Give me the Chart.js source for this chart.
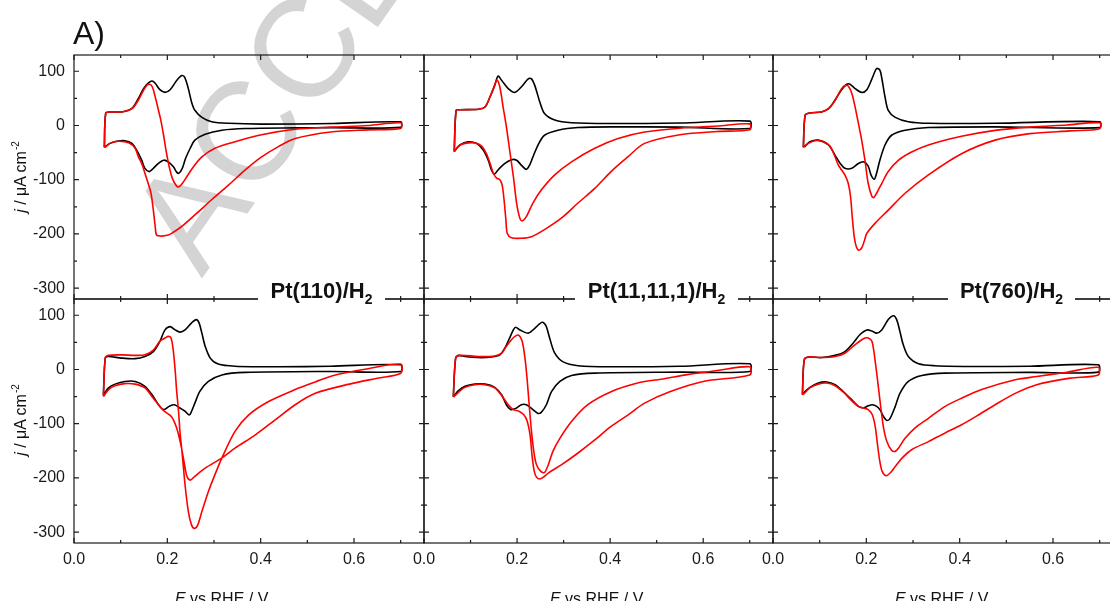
<!DOCTYPE html>
<html>
<head>
<meta charset="utf-8">
<title>CV Pt stepped surfaces</title>
<script src="https://cdn.jsdelivr.net/npm/chart.js@4"></script>
<style>
    html, body { margin: 0; padding: 0; overflow: hidden; background: #fff; }
    #page { position: relative; width: 1110px; height: 601px; overflow: hidden; font-family: "Liberation Sans", Arial, sans-serif; color: #111; }
    canvas { position: absolute; left: 0; top: 0; z-index: 1; }
    .watermark { position: absolute; left: 105px; top: 211px; transform-origin: 0 0; transform: rotate(-55deg); font-size: 140px; line-height: 140px; white-space: nowrap; color: #d4d4d4; z-index: 0; }
    .tag { position: absolute; left: 73px; top: 17px; font-size: 32px; line-height: 32px; z-index: 3; }
    .ytitle { position: absolute; transform: translate(-50%, -50%) rotate(-90deg); font-size: 16px; line-height: 16px; white-space: nowrap; z-index: 3; }
    .xtitle { position: absolute; top: 591px; font-size: 16px; line-height: 16px; white-space: nowrap; z-index: 3; }
    .sup { font-size: 10px; position: relative; top: -7px; margin-left: 1px; }
    .ptlabel { position: absolute; top: 280px; height: 27px; background: #fff; font-weight: bold; font-size: 22px; line-height: 22px; text-align: center; white-space: nowrap; z-index: 3; }
    .sub { font-size: 14px; position: relative; top: 6px; }
</style>
</head>
<body>
<div id="page">
    <div class="watermark">ACCEPTED MANUSCRIPT</div>
    <canvas id="c00" width="1130" height="601"></canvas>
    <canvas id="c01" width="1130" height="601"></canvas>
    <canvas id="c02" width="1130" height="601"></canvas>
    <canvas id="c10" width="1130" height="601"></canvas>
    <canvas id="c11" width="1130" height="601"></canvas>
    <canvas id="c12" width="1130" height="601"></canvas>
    <div class="tag">A)</div>
    <div class="ytitle" style="left:22px; top:177px"><i>j</i> / μA cm<span class="sup">-2</span></div>
    <div class="ytitle" style="left:22px; top:420px"><i>j</i> / μA cm<span class="sup">-2</span></div>
    <div class="ptlabel" style="left:258px; width:127px">Pt(110)/H<span class="sub">2</span></div>
    <div class="ptlabel" style="left:575px; width:163px">Pt(11,11,1)/H<span class="sub">2</span></div>
    <div class="ptlabel" style="left:948px; width:127px">Pt(760)/H<span class="sub">2</span></div>
    <div class="xtitle" style="left:175px"><i>E</i> vs RHE / V</div>
    <div class="xtitle" style="left:550px"><i>E</i> vs RHE / V</div>
    <div class="xtitle" style="left:895px"><i>E</i> vs RHE / V</div>
</div>
<script>
// potentials (V vs RHE) and current densities (µA cm-2), each curve traced as a closed loop
const top110BlackE = [0.065, 0.068, 0.077, 0.102, 0.117, 0.127, 0.138, 0.149, 0.159, 0.167, 0.174, 0.184, 0.195, 0.206, 0.220, 0.231, 0.237, 0.245, 0.252, 0.259, 0.274, 0.295, 0.331, 0.402, 0.556, 0.700, 0.700, 0.556, 0.474, 0.367, 0.317, 0.281, 0.259, 0.249, 0.239, 0.232, 0.225, 0.220, 0.213, 0.202, 0.192, 0.181, 0.170, 0.161, 0.152, 0.145, 0.134, 0.124, 0.109, 0.092, 0.077, 0.070, 0.065];
const top110BlackJ = [-40, 23, 25, 25, 28, 34, 50, 68, 78, 82, 78, 66, 61, 66, 83, 92, 89, 68, 43, 28, 15, 7, 4, 2.5, 3.6, 6.6, -3.5, -4, -4.4, -5.6, -8.7, -16, -27, -42, -61, -79, -88, -86, -76, -67, -64, -70, -79, -85, -79, -64, -45, -33, -28, -29, -33, -37, -40];
const top110RedE = [0.065, 0.068, 0.077, 0.102, 0.117, 0.127, 0.138, 0.149, 0.156, 0.162, 0.168, 0.174, 0.181, 0.186, 0.192, 0.197, 0.204, 0.211, 0.220, 0.225, 0.232, 0.242, 0.256, 0.274, 0.302, 0.345, 0.402, 0.474, 0.550, 0.630, 0.700, 0.700, 0.630, 0.550, 0.474, 0.438, 0.402, 0.367, 0.331, 0.295, 0.259, 0.231, 0.209, 0.202, 0.188, 0.177, 0.174, 0.170, 0.165, 0.159, 0.152, 0.145, 0.138, 0.131, 0.117, 0.095, 0.077, 0.067, 0.065];
const top110RedJ = [-40, 23, 25, 25, 28, 33, 47, 65, 74, 76, 71, 53, 28, 10, -18, -45, -76, -98, -112, -113, -107, -94, -76, -58, -42, -30, -17, -7, -3, 0, 5, -5.5, -8, -12, -24, -39, -58, -82, -110, -137, -165, -186, -199, -202, -204, -202, -186, -156, -125, -107, -88, -70, -58, -42, -32, -29, -33, -40, -40];

const top11111BlackE = [0.065, 0.069, 0.077, 0.117, 0.131, 0.142, 0.152, 0.159, 0.167, 0.181, 0.195, 0.209, 0.224, 0.231, 0.238, 0.249, 0.259, 0.281, 0.317, 0.402, 0.550, 0.700, 0.700, 0.550, 0.402, 0.331, 0.288, 0.259, 0.245, 0.234, 0.227, 0.220, 0.209, 0.199, 0.188, 0.174, 0.159, 0.151, 0.145, 0.138, 0.127, 0.113, 0.095, 0.077, 0.067, 0.065];
const top11111BlackJ = [-48, 28, 29, 30, 34, 53, 74, 91, 83, 68, 61, 71, 86, 86, 74, 43, 22, 10, 5, 3.6, 4.5, 8, -5.6, -3, -2.5, -3.8, -8.7, -18, -36, -58, -73, -81, -73, -64, -63, -70, -82, -90, -82, -64, -45, -33, -30, -36, -46, -48];
const top11111RedE = [0.065, 0.069, 0.077, 0.117, 0.131, 0.142, 0.149, 0.157, 0.163, 0.170, 0.177, 0.184, 0.192, 0.199, 0.206, 0.211, 0.220, 0.234, 0.252, 0.281, 0.317, 0.367, 0.417, 0.474, 0.550, 0.630, 0.700, 0.700, 0.630, 0.550, 0.474, 0.438, 0.402, 0.367, 0.331, 0.295, 0.259, 0.231, 0.209, 0.188, 0.179, 0.176, 0.172, 0.168, 0.163, 0.156, 0.149, 0.142, 0.134, 0.124, 0.109, 0.088, 0.074, 0.067, 0.065];
const top11111RedJ = [-48, 28, 29, 30, 34, 53, 68, 84, 71, 34, -2, -45, -94, -143, -171, -176, -168, -143, -119, -91, -67, -42, -24, -12, -5, -1, 3, -8, -11, -17, -33, -58, -85, -116, -143, -171, -192, -205, -208, -207, -199, -174, -137, -110, -100, -97, -88, -70, -52, -38, -32, -33, -38, -46, -48];

const top760BlackE = [0.065, 0.069, 0.079, 0.104, 0.119, 0.133, 0.147, 0.158, 0.165, 0.176, 0.190, 0.201, 0.212, 0.222, 0.229, 0.234, 0.240, 0.247, 0.262, 0.290, 0.333, 0.476, 0.700, 0.700, 0.476, 0.333, 0.283, 0.254, 0.240, 0.229, 0.222, 0.217, 0.210, 0.204, 0.194, 0.183, 0.169, 0.154, 0.144, 0.133, 0.119, 0.097, 0.079, 0.069, 0.065];
const top760BlackJ = [-40, 19, 23, 25, 31, 47, 66, 76, 76, 68, 61, 66, 86, 105, 102, 83, 53, 28, 15, 7, 4, 4, 7, -4, -2.5, -3.8, -8.7, -18, -36, -64, -88, -99, -91, -75, -67, -70, -79, -79, -70, -55, -36, -27, -30, -38, -40];
const top760RedE = [0.065, 0.069, 0.079, 0.104, 0.119, 0.133, 0.147, 0.156, 0.162, 0.169, 0.176, 0.183, 0.190, 0.197, 0.204, 0.212, 0.216, 0.222, 0.233, 0.247, 0.269, 0.297, 0.333, 0.404, 0.476, 0.550, 0.630, 0.700, 0.700, 0.637, 0.550, 0.476, 0.404, 0.333, 0.283, 0.247, 0.219, 0.201, 0.196, 0.190, 0.183, 0.178, 0.174, 0.170, 0.166, 0.161, 0.154, 0.147, 0.140, 0.133, 0.122, 0.108, 0.090, 0.076, 0.067, 0.065];
const top760RedJ = [-40, 19, 23, 25, 31, 46, 68, 74, 72, 59, 34, 4, -27, -64, -107, -131, -133, -125, -107, -85, -64, -49, -36, -20, -9, -3, 1, 5, -6, -10, -15, -27, -52, -91, -125, -156, -180, -199, -212, -226, -230, -222, -205, -170, -130, -106, -91, -82, -73, -58, -38, -30, -28, -33, -38, -40];

const bot110BlackE = [0.063, 0.067, 0.074, 0.102, 0.131, 0.152, 0.170, 0.184, 0.195, 0.206, 0.217, 0.227, 0.238, 0.252, 0.262, 0.268, 0.274, 0.281, 0.292, 0.309, 0.345, 0.438, 0.550, 0.700, 0.700, 0.550, 0.367, 0.317, 0.288, 0.270, 0.259, 0.252, 0.247, 0.238, 0.227, 0.215, 0.204, 0.192, 0.181, 0.170, 0.152, 0.131, 0.109, 0.088, 0.074, 0.063];
const bot110BlackJ = [-47, 21, 24, 21, 20, 24, 33, 52, 73, 79, 73, 69, 73, 86, 92, 86, 67, 43, 21, 10, 6, 5, 6, 8.6, -3.7, -3.6, -5.4, -10, -22, -40, -62, -77, -84, -77, -71, -65, -68, -74, -65, -50, -31, -22, -22, -27, -34, -47];
const bot110RedE = [0.063, 0.067, 0.074, 0.102, 0.131, 0.152, 0.170, 0.184, 0.195, 0.202, 0.208, 0.213, 0.217, 0.220, 0.224, 0.227, 0.232, 0.238, 0.245, 0.252, 0.258, 0.265, 0.274, 0.288, 0.302, 0.317, 0.345, 0.374, 0.417, 0.474, 0.517, 0.556, 0.627, 0.700, 0.700, 0.650, 0.590, 0.517, 0.474, 0.431, 0.388, 0.345, 0.317, 0.281, 0.259, 0.249, 0.242, 0.237, 0.229, 0.220, 0.209, 0.192, 0.181, 0.170, 0.152, 0.131, 0.109, 0.088, 0.074, 0.063];
const bot110RedJ = [-50, 21, 26, 27, 26, 27, 36, 52, 58, 61, 58, 33, -4, -40, -77, -114, -157, -213, -262, -287, -293, -287, -262, -225, -194, -163, -114, -84, -59, -37, -23, -11, 1, 10, -7, -16, -27, -44, -65, -93, -121, -145, -163, -182, -197, -204, -197, -176, -139, -108, -87, -76, -65, -53, -34, -27, -26, -30, -37, -50];

const bot11111BlackE = [0.063, 0.068, 0.074, 0.088, 0.117, 0.145, 0.163, 0.174, 0.184, 0.192, 0.197, 0.206, 0.224, 0.238, 0.254, 0.262, 0.270, 0.281, 0.299, 0.331, 0.402, 0.550, 0.700, 0.700, 0.550, 0.367, 0.317, 0.292, 0.274, 0.263, 0.252, 0.245, 0.234, 0.220, 0.209, 0.199, 0.187, 0.177, 0.167, 0.152, 0.131, 0.109, 0.088, 0.074, 0.065, 0.063];
const bot11111BlackJ = [-50, 21, 26, 24, 22, 23, 27, 40, 58, 73, 78, 73, 67, 76, 87, 81, 58, 30, 14, 7, 5, 6, 10.5, -3.7, -4.8, -6.7, -11, -22, -41, -65, -79, -81, -74, -65, -65, -71, -74, -65, -47, -33, -27, -27, -31, -39, -48, -50];
const bot11111RedE = [0.063, 0.068, 0.077, 0.117, 0.152, 0.167, 0.177, 0.188, 0.197, 0.204, 0.211, 0.217, 0.222, 0.226, 0.231, 0.237, 0.242, 0.251, 0.259, 0.267, 0.277, 0.292, 0.317, 0.352, 0.402, 0.459, 0.517, 0.563, 0.630, 0.700, 0.700, 0.600, 0.528, 0.474, 0.438, 0.402, 0.367, 0.331, 0.295, 0.267, 0.256, 0.249, 0.242, 0.237, 0.232, 0.228, 0.222, 0.215, 0.204, 0.192, 0.181, 0.167, 0.152, 0.131, 0.109, 0.088, 0.074, 0.063];
const bot11111RedJ = [-51, 21, 26, 24, 25, 30, 43, 55, 62, 63, 52, 21, -22, -65, -114, -157, -176, -188, -190, -176, -151, -127, -96, -65, -41, -25, -17, -10, -2, 5, -10, -22, -41, -62, -84, -105, -130, -154, -176, -191, -199, -202, -199, -188, -157, -121, -96, -84, -77, -74, -65, -48, -34, -28, -28, -33, -42, -51];

const bot760BlackE = [0.063, 0.067, 0.076, 0.104, 0.133, 0.154, 0.172, 0.187, 0.201, 0.212, 0.222, 0.233, 0.247, 0.258, 0.265, 0.272, 0.279, 0.290, 0.312, 0.347, 0.440, 0.550, 0.697, 0.697, 0.550, 0.369, 0.319, 0.290, 0.272, 0.262, 0.251, 0.244, 0.237, 0.229, 0.222, 0.213, 0.204, 0.194, 0.183, 0.169, 0.151, 0.133, 0.115, 0.097, 0.079, 0.067, 0.063];
const bot760BlackJ = [-45, 18, 23, 22, 26, 33, 49, 65, 73, 71, 67, 73, 92, 99, 92, 70, 46, 24, 10.5, 7, 5.6, 6, 8.6, -4.9, -5.4, -6.7, -11, -22, -44, -68, -90, -94, -87, -74, -68, -65, -67, -71, -68, -56, -41, -28, -23, -25, -33, -42, -45];
const bot760RedE = [0.063, 0.067, 0.076, 0.104, 0.133, 0.154, 0.172, 0.187, 0.197, 0.204, 0.212, 0.219, 0.226, 0.232, 0.237, 0.244, 0.254, 0.262, 0.269, 0.283, 0.304, 0.333, 0.369, 0.404, 0.447, 0.519, 0.565, 0.630, 0.697, 0.697, 0.637, 0.565, 0.519, 0.476, 0.440, 0.404, 0.369, 0.333, 0.297, 0.276, 0.262, 0.251, 0.242, 0.234, 0.229, 0.224, 0.219, 0.213, 0.204, 0.194, 0.183, 0.169, 0.151, 0.133, 0.115, 0.097, 0.079, 0.067, 0.063];
const bot760RedJ = [-47, 18, 23, 22, 24, 30, 43, 53, 58, 58, 52, 15, -34, -77, -108, -133, -149, -151, -145, -127, -108, -90, -68, -53, -37, -19, -13, -5, 4, -10, -16, -28, -44, -65, -84, -102, -117, -133, -148, -164, -179, -191, -196, -188, -170, -139, -105, -84, -74, -71, -68, -58, -42, -30, -25, -27, -34, -44, -47];

const xMajorTicks = [0, 0.2, 0.4, 0.6];
const xMinorTicks = [0.1, 0.3, 0.5, 0.7];
const yMajorTicks = [-300, -200, -100, 0, 100];
const yMinorTicks = [-250, -150, -50, 50];

const CANVAS_W = 1130;
const CANVAS_H = 601;
const Y_AXIS_W = 50;
const X_AXIS_H = 40;
const panelLeft = [74, 424, 773];
const panelRight = [424, 773, 1123];
const panelTop = [55, 299];
const panelBottom = [299, 543];

function toPoints(es, js) {
    return es.map((e, i) => ({ x: e, y: js[i] }));
}

// closed frame with inward ticks on all four sides
const framePlugin = {
    id: "frame",
    beforeDatasetsDraw(chart) {
        const { ctx, chartArea: a, scales: { x, y } } = chart;
        ctx.save();
        ctx.strokeStyle = "#1a1a1a";
        ctx.lineWidth = 1.2;
        ctx.strokeRect(a.left, a.top, a.right - a.left, a.bottom - a.top);
        ctx.beginPath();
        const tickX = (v, len) => {
            const px = x.getPixelForValue(v);
            ctx.moveTo(px, a.bottom); ctx.lineTo(px, a.bottom - len);
            ctx.moveTo(px, a.top); ctx.lineTo(px, a.top + len);
        };
        const tickY = (v, len) => {
            const py = y.getPixelForValue(v);
            ctx.moveTo(a.left, py); ctx.lineTo(a.left + len, py);
            ctx.moveTo(a.right, py); ctx.lineTo(a.right - len, py);
        };
        xMajorTicks.forEach(v => tickX(v, 5));
        xMinorTicks.forEach(v => tickX(v, 3));
        yMajorTicks.forEach(v => tickY(v, 5));
        yMinorTicks.forEach(v => tickY(v, 3));
        ctx.stroke();
        ctx.restore();
    }
};

function makePanel(row, col, blackE, blackJ, redE, redJ) {
    const ctx = document.getElementById("c" + row + col).getContext("2d");
    const tickFont = { family: "Liberation Sans", size: 16 };
    return new Chart(ctx, {
        type: "scatter",
        data: {
            datasets: [
                { data: toPoints(redE, redJ), showLine: true, borderColor: "#ff0000", borderWidth: 1.6, tension: 0.3, pointRadius: 0 },
                { data: toPoints(blackE, blackJ), showLine: true, borderColor: "#000000", borderWidth: 1.6, tension: 0.3, pointRadius: 0 }
            ]
        },
        options: {
            responsive: false,
            animation: false,
            devicePixelRatio: 1,
            layout: {
                padding: {
                    left: panelLeft[col] - Y_AXIS_W,
                    right: CANVAS_W - panelRight[col],
                    top: panelTop[row],
                    bottom: CANVAS_H - panelBottom[row] - X_AXIS_H
                }
            },
            plugins: { legend: { display: false }, tooltip: { enabled: false } },
            scales: {
                x: {
                    type: "linear",
                    min: 0,
                    max: 0.75,
                    grid: { display: false, drawTicks: false },
                    border: { display: false },
                    ticks: {
                        display: row === 1,
                        stepSize: 0.2,
                        includeBounds: false,
                        maxRotation: 0,
                        autoSkip: false,
                        padding: 7,
                        color: "#1a1a1a",
                        font: tickFont,
                        callback: v => v.toFixed(1)
                    },
                    afterFit: s => { s.height = X_AXIS_H; }
                },
                y: {
                    type: "linear",
                    min: -320,
                    max: 130,
                    grid: { display: false, drawTicks: false },
                    border: { display: false },
                    ticks: {
                        display: col === 0,
                        stepSize: 100,
                        includeBounds: false,
                        autoSkip: false,
                        padding: 9,
                        color: "#1a1a1a",
                        font: tickFont,
                        callback: v => String(v)
                    },
                    afterFit: s => { s.width = Y_AXIS_W; }
                }
            }
        },
        plugins: [framePlugin]
    });
}

makePanel(0, 0, top110BlackE, top110BlackJ, top110RedE, top110RedJ);
makePanel(0, 1, top11111BlackE, top11111BlackJ, top11111RedE, top11111RedJ);
makePanel(0, 2, top760BlackE, top760BlackJ, top760RedE, top760RedJ);
makePanel(1, 0, bot110BlackE, bot110BlackJ, bot110RedE, bot110RedJ);
makePanel(1, 1, bot11111BlackE, bot11111BlackJ, bot11111RedE, bot11111RedJ);
makePanel(1, 2, bot760BlackE, bot760BlackJ, bot760RedE, bot760RedJ);
</script>
</body>
</html>
